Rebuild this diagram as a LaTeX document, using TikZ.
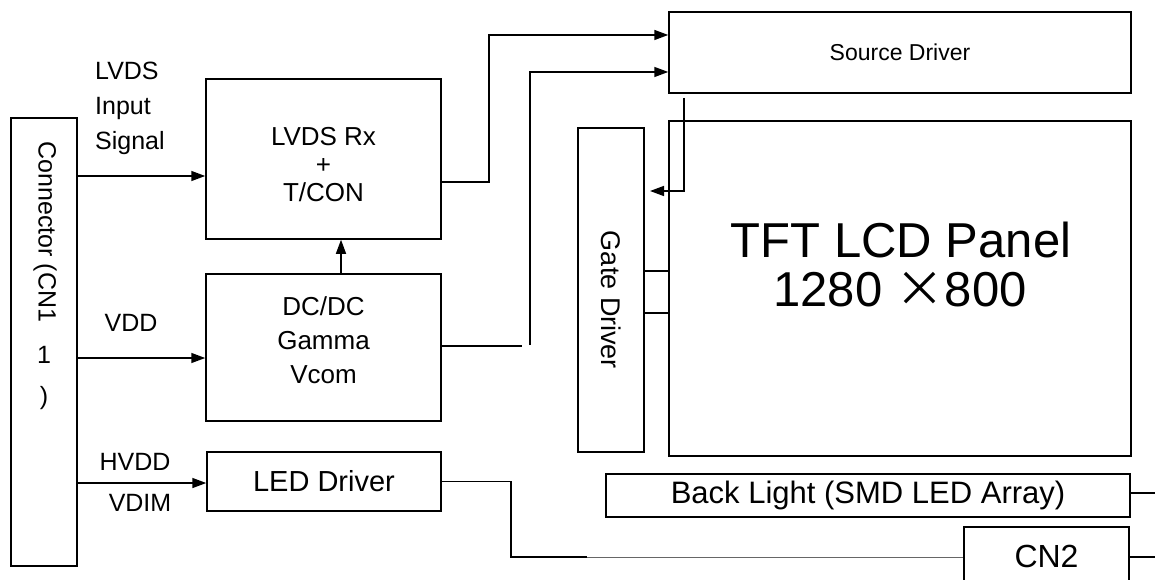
\documentclass[tikz,border=0pt]{standalone}
\usepackage{fontspec}
\setmainfont{Liberation Sans}
\newfontfamily\cjk{Noto Sans CJK SC}
\usetikzlibrary{arrows.meta}

\begin{document}
\begin{tikzpicture}[x=1pt, y=-1pt,
  every node/.style={font=\fontsize{25}{28}\selectfont, inner sep=0pt},
  block/.style={draw, line width=1.5pt},
  wire/.style={line width=1.5pt},
  sig/.style={wire, -{Triangle[length=14pt,width=10pt]}}]
  \clip (0,0) rectangle (1155,580);

  % blocks
  \node[block, minimum width=66, minimum height=448] (conn) at (44,342) {};
  \node[block, minimum width=235, minimum height=160,
        label={[align=center, font=\fontsize{26}{28}\selectfont, yshift=-6pt]center:LVDS Rx\\+\\T/CON}] (lvds) at (323.5,159) {};
  \node[block, minimum width=235, minimum height=147,
        label={[align=center, font=\fontsize{26}{34}\selectfont, yshift=7pt]center:DC/DC\\Gamma\\Vcom}] (dcdc) at (323.5,347.5) {};
  \node[block, minimum width=234, minimum height=59, font=\fontsize{29}{30}\selectfont] (led) at (324,481.5) {LED Driver};
  \node[block, minimum width=462, minimum height=81, font=\fontsize{23}{28}\selectfont] (src) at (900,52.5) {Source Driver};
  \node[block, minimum width=66, minimum height=324] (gate) at (611,290) {};
  \node[block, minimum width=462, minimum height=335] (tft) at (900,288.5) {};
  \node[block, minimum width=524, minimum height=43, font=\fontsize{31}{32}\selectfont] (bl) at (868,495.5) {Back Light (SMD LED Array)};
  \node[block, minimum width=165, minimum height=58, font=\fontsize{32}{32}\selectfont] (cn2) at (1046.5,556) {CN2};

  % texts
  \node[rotate=-90] (conntxt) at (45,232) {Connector (CN1};
  \node (connone) at (44,355) {1};
  \node (connpar) at (44,398) {)};
  \node[rotate=-90, font=\fontsize{27}{28}\selectfont] (gatetxt) at (611,300) {Gate Driver};
  \node[font=\fontsize{49}{50}\selectfont] (tfttxt) at (901,240) {TFT LCD Panel};
  \node[font=\fontsize{49}{50}\selectfont] (restxt) at (900,290) {1280 {\cjk ×}800};
  \node[align=left, anchor=west, font=\fontsize{25}{35}\selectfont] (lvdstxt) at (95,108) {LVDS\\Input\\Signal};
  \node (vdd) at (131,323) {VDD};
  \node (hvdd) at (135,462) {HVDD};
  \node (vdim) at (140,503) {VDIM};

  % free ends
  \coordinate (dcdcend) at (522,346);
  \coordinate (srcout) at (684,98);
  \coordinate (gatein) at (650,191);
  \coordinate (fade) at (587,557);

  % connectors
  \draw[sig] (conn.east |- 0,176) -- (lvds.west |- 0,176);
  \draw[sig] (conn.east |- 0,358) -- (dcdc.west |- 0,358);
  \draw[sig] (conn.east |- 0,483) -- (led.west |- 0,483);
  \draw[sig] (dcdc.north -| 341,0) -- (lvds.south -| 341,0);
  \draw[sig] (lvds.east |- 0,182) -- (489,182) -- (489,35) -- (src.west |- 0,35);
  \draw[wire] (dcdc.east |- 0,346) -- (dcdcend);
  \draw[sig] (530,345) -- (530,72) -- (src.west |- 0,72);
  \draw[sig] (srcout) -- (srcout |- gatein) -- (gatein);
  \draw[wire] (gate.east |- 0,271) -- (tft.west |- 0,271);
  \draw[wire] (gate.east |- 0,313) -- (tft.west |- 0,313);
  \draw[wire] (led.east) -- (511,481.5) -- (511,557) -- (fade);
  \draw[line width=1pt, black!60] (fade) -- (cn2.west |- fade);
  \draw[wire] (bl.east |- 0,493) -- (1155,493);
  \draw[wire] (cn2.east |- 0,557) -- (1155,557);
\end{tikzpicture}
\end{document}
